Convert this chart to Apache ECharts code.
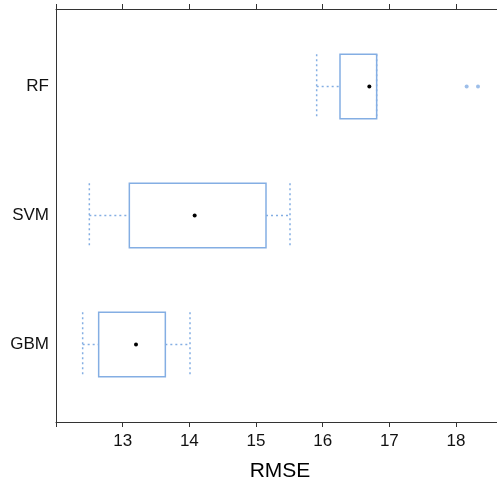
<!DOCTYPE html>
<html>
<head>
<meta charset="utf-8">
<style>
  html, body { margin: 0; padding: 0; background: #fff; }
  #chart { width: 497px; height: 484px; }
</style>
<script src="https://cdn.jsdelivr.net/npm/echarts@6/dist/echarts.min.js"></script>
</head>
<body>
<div id="chart"></div>
<script>
// models, bottom to top (y = 1, 2, 3)
const models = ['GBM', 'SVM', 'RF']
// five-number summaries: min, q1, median, q3, max
const whiskerLow = [12.40, 12.50, 15.91]
const boxLow = [12.64, 13.10, 16.26]
const medians = [13.20, 14.08, 16.70]
const boxHigh = [13.64, 15.15, 16.81]
const whiskerHigh = [14.01, 15.51, 16.81]
// RF outliers
const outlierModel = ['RF', 'RF']
const outlierValues = [18.16, 18.33]
const xTicks = [12, 13, 14, 15, 16, 17, 18]
const xLabels = [13, 14, 15, 16, 17, 18]

const blue = '#84aee3'
const font = '"Liberation Sans", Arial, Helvetica, sans-serif'

const boxData = models.map((m, i) => [
  i + 1, whiskerLow[i], boxLow[i], medians[i], boxHigh[i], whiskerHigh[i],
])
const outlierData = outlierValues.map((v, i) => [v, models.indexOf(outlierModel[i]) + 1])

function renderBox(params, api) {
  const y = api.value(0)
  const lo = api.coord([api.value(1), y])
  const q1 = api.coord([api.value(2), y])
  const med = api.coord([api.value(3), y])
  const q3 = api.coord([api.value(4), y])
  const hi = api.coord([api.value(5), y])
  const h = api.size([0, 0.5])[1]
  const cy = lo[1]
  const dotted = { stroke: blue, lineWidth: 1.5, lineDash: [2, 3], fill: null }
  return {
    type: 'group',
    children: [
      { type: 'line', shape: { x1: lo[0], y1: cy, x2: q1[0], y2: cy }, style: dotted },
      { type: 'line', shape: { x1: q3[0], y1: cy, x2: hi[0], y2: cy }, style: dotted },
      { type: 'line', shape: { x1: lo[0], y1: cy - h / 2, x2: lo[0], y2: cy + h / 2 }, style: dotted },
      { type: 'line', shape: { x1: hi[0], y1: cy - h / 2, x2: hi[0], y2: cy + h / 2 }, style: dotted },
      {
        type: 'rect',
        shape: { x: q1[0], y: cy - h / 2, width: q3[0] - q1[0], height: h },
        style: { stroke: blue, lineWidth: 1.5, fill: null },
      },
      { type: 'circle', shape: { cx: med[0], cy: cy, r: 2 }, style: { fill: '#000' } },
    ],
  }
}

const chart = echarts.init(document.getElementById('chart'))

const axisLine = { show: true, lineStyle: { color: '#333', width: 1 } }

chart.setOption({
  animation: false,
  grid: { left: 56, top: 9, width: 448, height: 413, outerBoundsMode: 'none' },
  xAxis: [
    {
      type: 'value',
      position: 'bottom',
      min: 12,
      max: 18.72,
      name: 'RMSE',
      nameLocation: 'middle',
      nameGap: 39,
      nameTextStyle: { fontFamily: font, fontSize: 21, color: '#000' },
      axisLine: axisLine,
      axisTick: { show: true, length: 5, customValues: xTicks, lineStyle: { color: '#333' } },
      axisLabel: {
        customValues: xLabels,
        fontFamily: font,
        fontSize: 17,
        color: '#111',
        margin: 11,
      },
      splitLine: { show: false },
    },
    {
      type: 'value',
      position: 'top',
      min: 12,
      max: 18.72,
      axisLine: axisLine,
      axisTick: { show: true, length: 5, customValues: xTicks, lineStyle: { color: '#333' } },
      axisLabel: { show: false },
      splitLine: { show: false },
    },
  ],
  yAxis: {
    type: 'value',
    min: 0.4,
    max: 3.6,
    axisLine: axisLine,
    axisTick: { show: false },
    axisLabel: {
      customValues: [1, 2, 3],
      formatter: (v) => models[Math.round(v) - 1] || '',
      fontFamily: font,
      fontSize: 17,
      color: '#111',
      margin: 7,
    },
    splitLine: { show: false },
  },
  series: [
    {
      type: 'custom',
      renderItem: renderBox,
      encode: { x: [1, 2, 3, 4, 5], y: 0 },
      data: boxData,
      silent: true,
    },
    {
      type: 'scatter',
      data: outlierData,
      symbolSize: 4,
      itemStyle: { color: blue },
      silent: true,
    },
  ],
})
</script>
</body>
</html>
